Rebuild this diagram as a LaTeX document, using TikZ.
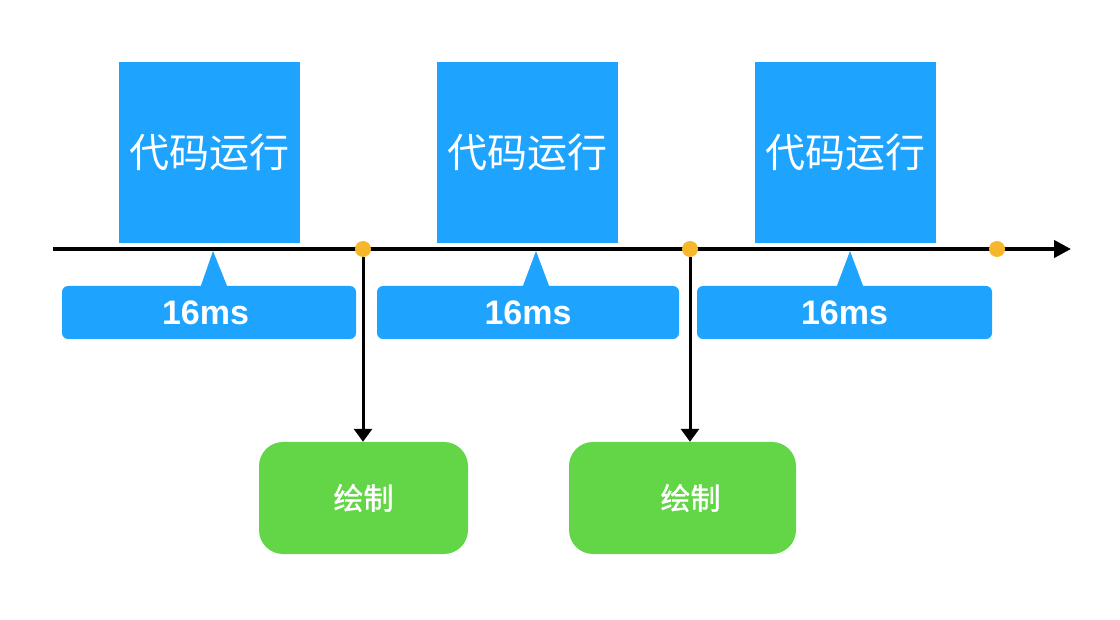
\documentclass[tikz,border=0pt]{standalone}
\usepackage{fontspec}
\usetikzlibrary{arrows.meta}
\newfontfamily\cjk{Noto Sans CJK SC}
\newfontfamily\cjkbold[FakeBold=1.2]{Noto Sans CJK SC}
\newfontfamily\lat{Liberation Sans}
\definecolor{boxblue}{RGB}{30,164,254}
\definecolor{drawgreen}{RGB}{99,214,72}
\definecolor{dotorange}{RGB}{247,183,44}
\tikzset{
  codebox/.style={fill=boxblue, minimum width=181pt, minimum height=181pt, inner sep=0pt, text=white, font=\cjk\fontsize{40}{40}\selectfont},
  tagbox/.style={fill=boxblue, rounded corners=6pt, minimum height=53pt, inner sep=0pt, text=white, font=\lat\bfseries\fontsize{34}{34}\selectfont},
  dotmark/.style={circle, fill=dotorange, minimum size=16pt, inner sep=0pt},
  greenbox/.style={fill=drawgreen, rounded corners=24pt, minimum height=112pt, inner sep=0pt, text=white, font=\cjkbold\fontsize{30}{30}\selectfont},
  timeline/.style={line width=4pt, -{Triangle[length=17pt,width=17pt]}},
  downarrow/.style={line width=3pt, -{Triangle[length=13pt,width=18pt]}}
}
\begin{document}
\begin{tikzpicture}[x=1pt,y=-1pt]
\useasboundingbox (0,0) rectangle (1120,620);
% code boxes
\node[codebox] (c1) at (209.5,152.5) {代码运行};
\node[codebox] (c2) at (527.5,152.5) {代码运行};
\node[codebox] (c3) at (845,152.5) {代码运行};
% callouts
\node[tagbox, minimum width=294pt] (t1) at (209,312.5) {16ms\hspace*{7pt}};
\node[tagbox, minimum width=302pt] (t2) at (528,312.5) {16ms};
\node[tagbox, minimum width=295pt] (t3) at (844.5,312.5) {16ms};
\fill[boxblue] (200.5,287) -- (213,251) -- (227.5,287) -- cycle;
\fill[boxblue] (522.5,287) -- (536,251) -- (549.5,287) -- cycle;
\fill[boxblue] (836.5,287) -- (850,251) -- (863.5,287) -- cycle;
% timeline
\coordinate (tstart) at (53,249);
\coordinate (tend) at (1071,249);
\draw[timeline] (tstart) -- (tend);
% green boxes
\node[greenbox, minimum width=209pt] (g1) at (363.5,498) {绘制};
\node[greenbox, minimum width=227pt] (g2) at (682.5,498) {\hspace*{16pt}绘制};
% dots
\node[dotmark] (d1) at (363,249) {};
\node[dotmark] (d2) at (690,249) {};
\node[dotmark] (d3) at (997,249) {};
% arrows down
\draw[downarrow] (d1.south) -- (d1 |- g1.north);
\draw[downarrow] (d2.south) -- (d2 |- g2.north);
\end{tikzpicture}
\end{document}
